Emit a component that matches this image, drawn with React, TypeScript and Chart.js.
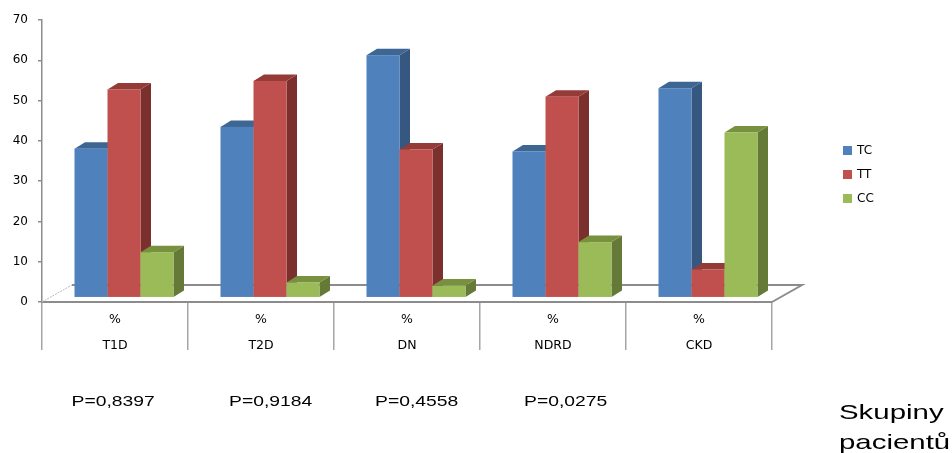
import { useEffect, useRef } from "react";
import { Chart, registerables } from "chart.js";

Chart.register(...registerables);

// Genotype distribution (%) per patient group
const groups = ["T1D", "T2D", "DN", "NDRD", "CKD"];
const unitLabel = "%";
const seriesNames = ["TC", "TT", "CC"];
const tcValues = [37.0, 42.4, 60.2, 36.3, 52.0];
const ttValues = [51.7, 53.8, 36.8, 49.9, 7.0];
const ccValues = [11.3, 3.8, 3.0, 13.8, 41.0];
const yMin = 0;
const yMax = 70;
const yStep = 10;
const pValues = ["P=0,8397", "P=0,9184", "P=0,4558", "P=0,0275"];
const groupAxisTitle = ["Skupiny", "pacientů"];

// front / side / top shades of each series
const palette = [
  { front: "#4F81BD", side: "#36577F", top: "#3E6693" },
  { front: "#C0504D", side: "#7C302E", top: "#943B38" },
  { front: "#9BBB59", side: "#667A37", top: "#78913F" },
];

// projection of the 3-D floor and bar blocks
const FLOOR_DX = 30;
const FLOOR_DY = -17;
const BAR_SHIFT_X = 9;
const BAR_SHIFT_Y = -4.3;
const BAR_DX = 10.5;
const BAR_DY = -6.5;

const AXIS_GREY = "#8C8C8C";
const TEXT_FONT = "'DejaVu Sans', Verdana, sans-serif";
const NOTE_FONT = "'Liberation Sans', Arial, sans-serif";

function poly(ctx: CanvasRenderingContext2D, pts: number[][]) {
  ctx.beginPath();
  ctx.moveTo(pts[0][0], pts[0][1]);
  for (let i = 1; i < pts.length; i++) ctx.lineTo(pts[i][0], pts[i][1]);
  ctx.closePath();
  ctx.fill();
}

function stretchedText(
  ctx: CanvasRenderingContext2D,
  text: string,
  x: number,
  y: number,
  sx: number
) {
  ctx.save();
  ctx.translate(x, y);
  ctx.scale(sx, 1);
  ctx.fillText(text, 0, 0);
  ctx.restore();
}

const blocks3d = {
  id: "blocks3d",
  beforeDatasetsDraw(chart: any) {
    const { ctx, chartArea } = chart;
    const { left, right, bottom } = chartArea;
    ctx.save();

    // floor: back edge, right edge and faint left edge
    ctx.strokeStyle = AXIS_GREY;
    ctx.lineWidth = 2;
    ctx.beginPath();
    ctx.moveTo(left + FLOOR_DX, bottom + FLOOR_DY);
    ctx.lineTo(right + FLOOR_DX, bottom + FLOOR_DY);
    ctx.lineTo(right, bottom);
    ctx.stroke();
    ctx.strokeStyle = "#B8B8B8";
    ctx.lineWidth = 1;
    ctx.setLineDash([2, 1]);
    ctx.beginPath();
    ctx.moveTo(left, bottom);
    ctx.lineTo(left + FLOOR_DX, bottom + FLOOR_DY);
    ctx.stroke();
    ctx.setLineDash([]);

    // bars, group by group, left to right so each block hides its neighbour's side
    const metas = chart.data.datasets.map((_: any, i: number) => chart.getDatasetMeta(i));
    const n = chart.data.labels.length;
    for (let j = 0; j < n; j++) {
      for (let d = 0; d < metas.length; d++) {
        const el = metas[d].data[j];
        if (!el) continue;
        const { x, y, base, width } = el.getProps(["x", "y", "base", "width"], true);
        const x0 = x - width / 2 + BAR_SHIFT_X;
        const x1 = x + width / 2 + BAR_SHIFT_X;
        const top = y + BAR_SHIFT_Y;
        const bot = base + BAR_SHIFT_Y;
        const c = palette[d];
        ctx.fillStyle = c.side;
        poly(ctx, [
          [x1, top],
          [x1 + BAR_DX, top + BAR_DY],
          [x1 + BAR_DX, bot + BAR_DY],
          [x1, bot],
        ]);
        ctx.fillStyle = c.top;
        poly(ctx, [
          [x0, top],
          [x1, top],
          [x1 + BAR_DX, top + BAR_DY],
          [x0 + BAR_DX, top + BAR_DY],
        ]);
        ctx.fillStyle = c.front;
        ctx.fillRect(x0, top, x1 - x0, bot - top);
      }
    }
    ctx.restore();
    return false;
  },
  afterDraw(chart: any) {
    const { ctx } = chart;
    ctx.save();

    // legend
    ctx.font = `12px ${TEXT_FONT}`;
    ctx.textBaseline = "middle";
    ctx.textAlign = "left";
    chart.data.datasets.forEach((ds: any, i: number) => {
      const cy = 150 + i * 24;
      ctx.fillStyle = ds.backgroundColor;
      ctx.fillRect(843, cy - 4, 9, 9);
      ctx.fillStyle = "#000";
      ctx.fillText(ds.label, 857, cy + 0.5);
    });

    // p-values under the groups
    ctx.textBaseline = "alphabetic";
    ctx.fillStyle = "#000";
    ctx.font = `15.4px ${NOTE_FONT}`;
    const px = [71.5, 229, 375, 524];
    pValues.forEach((t, i) => stretchedText(ctx, t, px[i], 406, 1.255));

    // category axis title
    ctx.font = `21px ${NOTE_FONT}`;
    groupAxisTitle.forEach((t, i) => stretchedText(ctx, t, 839, 419 + i * 30, 1.4));

    ctx.restore();
  },
};

export default function App() {
  const canvasRef = useRef<HTMLCanvasElement | null>(null);

  useEffect(() => {
    if (!canvasRef.current) return;
    const seriesValues = [tcValues, ttValues, ccValues];
    const chart = new Chart(canvasRef.current, {
      type: "bar",
      data: {
        labels: groups.map((g) => [unitLabel, g]),
        datasets: seriesNames.map((name, i) => ({
          label: name,
          data: seriesValues[i],
          backgroundColor: palette[i].front,
          borderWidth: 0,
          categoryPercentage: 0.678,
          barPercentage: 1,
        })),
      },
      options: {
        responsive: false,
        animation: false,
        events: [],
        layout: { padding: { left: 0, top: 20, right: 180, bottom: 0 } },
        plugins: {
          legend: { display: false },
          tooltip: { enabled: false },
        },
        scales: {
          x: {
            grid: {
              offset: true,
              drawOnChartArea: false,
              drawTicks: true,
              tickLength: 48,
              color: "#A6A6A6",
              lineWidth: 1.5,
            },
            border: { display: true, color: AXIS_GREY, width: 2 },
            ticks: {
              font: { family: TEXT_FONT, size: 12.5, lineHeight: "26px" },
              color: "#000",
              padding: -43,
              maxRotation: 0,
              autoSkip: false,
            },
            afterFit: (s: any) => {
              s.height = 151;
            },
          },
          y: {
            min: yMin,
            max: yMax,
            ticks: {
              stepSize: yStep,
              font: { family: TEXT_FONT, size: 12 },
              color: "#000",
              padding: 10,
            },
            grid: {
              drawOnChartArea: false,
              drawTicks: true,
              tickLength: 4,
              color: AXIS_GREY,
              lineWidth: 1.5,
            },
            border: { display: true, color: AXIS_GREY, width: 1.5 },
            afterFit: (s: any) => {
              s.width = 42;
            },
          },
        },
      },
      plugins: [blocks3d],
    } as any);
    return () => chart.destroy();
  }, []);

  return (
    <div style={{ position: "absolute", left: 0, top: 0, width: 952, height: 453, background: "#fff" }}>
      <canvas ref={canvasRef} width={952} height={453} style={{ display: "block" }} />
    </div>
  );
}
